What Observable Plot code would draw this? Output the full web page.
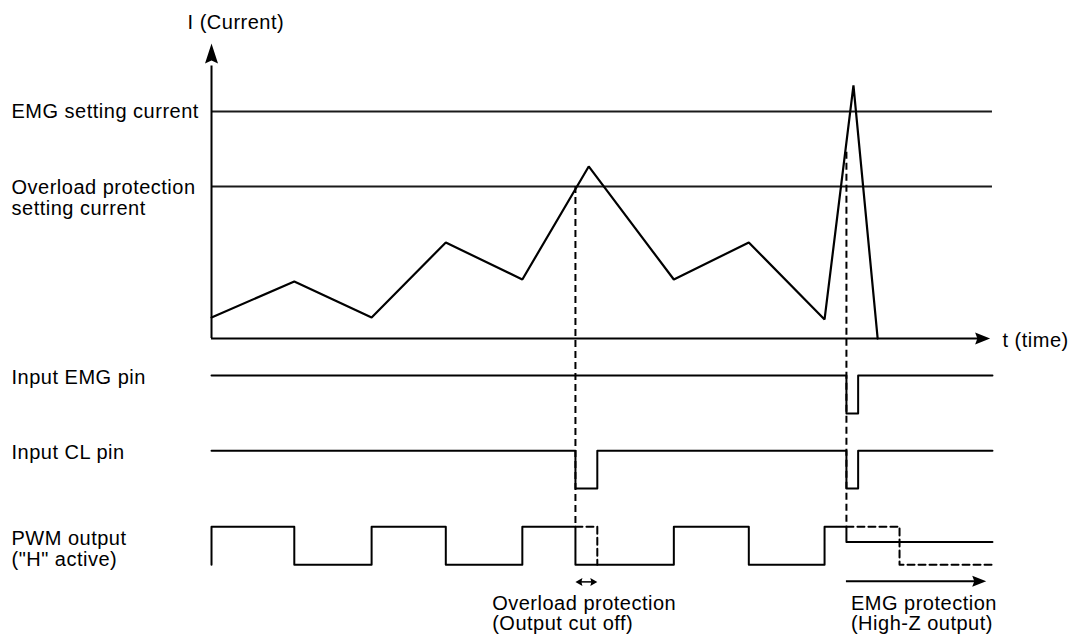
<!DOCTYPE html>
<html>
<head>
<meta charset="utf-8">
<script src="https://cdn.jsdelivr.net/npm/d3@7"></script>
<script src="https://cdn.jsdelivr.net/npm/@observablehq/plot@0.6"></script>
<style>
  html, body { margin: 0; padding: 0; background: #fff; }
  #chart svg text { letter-spacing: 0.5px; }
</style>
</head>
<body>
<div id="chart"></div>
<script>
// ---------- data (time in arbitrary units 0..100, current in arbitrary units) ----------
const currentTimes  = [0, 10.6, 20.5, 30, 39.8, 48.3, 59.2, 68.8, 78.5, 82.2, 85.3];
const currentValues = [0.93, 2.51, 0.93, 4.23, 2.6, 7.58, 2.6, 4.23, 0.84, 11.15, 0];

const emgSetting = 10;
const overloadSetting = 6.7;
const overloadTrip = 46.6;   // time current crosses overload setting
const overloadRelease = 49.4;
const emgTrip = 81.3;        // time EMG detected
const emgRelease = 82.8;
const pwmNormalEnd = 88.1;
const tEnd = 100;

const emgPinTimes  = [0, emgTrip, emgRelease, tEnd];
const emgPinLevels = [1, 0, 1, 1];

const clPinTimes  = [0, overloadTrip, overloadRelease, emgTrip, emgRelease, tEnd];
const clPinLevels = [1, 0, 1, 0, 1, 1];

const pwmTimes  = [0, 0, 10.6, 20.5, 30, 39.8, overloadTrip, 59.2, 68.8, 78.5, emgTrip, tEnd];
const pwmLevels = [0, 1, 0, 1, 0, 1, 0, 1, 0, 1, 0.6, 0.6];

const pwmDash1Times  = [overloadTrip, overloadRelease, overloadRelease];
const pwmDash1Levels = [1, 1, 0];
const pwmDash2Times  = [emgTrip, pwmNormalEnd, pwmNormalEnd, tEnd];
const pwmDash2Levels = [1, 1, 0, 0];

const rowNames = ["Input EMG pin", "Input CL pin", "PWM output\n(\"H\" active)"];

// ---------- layout (not data) ----------
const rowLow = [-3.3, -6.61, -9.96];
const rowAmp = 1.67;
const lvl = (row, v) => rowLow[row] + v * rowAmp;
const axisTop = 13.0;
const axisRight = 99.7;
const arrowY = -10.72;

const labels = [
  {t: -3.07, y: 13.90, s: "I (Current)"},
  {t: -25.61, y: 10.01, s: "EMG setting current"},
  {t: -25.61, y: 6.19, s: "Overload protection\nsetting current"},
  {t: 101.28, y: -0.10, s: "t (time)"},
  {t: -25.61, y: -1.70, s: rowNames[0]},
  {t: -25.61, y: -5.03, s: rowNames[1]},
  {t: -25.61, y: -9.27, s: rowNames[2]},
  {t: 35.94, y: -12.12, s: "Overload protection\n(Output cut off)"},
  {t: 81.88, y: -12.12, s: "EMG protection\n(High-Z output)"}
];

const zip = (ts, vs, f = v => v) => ts.map((t, i) => ({t, v: f(vs[i])}));

const currentData = zip(currentTimes, currentValues);
const emgData = zip(emgPinTimes, emgPinLevels, v => lvl(0, v));
const clData = zip(clPinTimes, clPinLevels, v => lvl(1, v));
const pwmData = zip(pwmTimes, pwmLevels, v => lvl(2, v));
const dash1 = zip(pwmDash1Times, pwmDash1Levels, v => lvl(2, v));
const dash2 = zip(pwmDash2Times, pwmDash2Levels, v => lvl(2, v));

function head(len, hw) {
  return {draw(ctx) {
    ctx.moveTo(0, 0);
    ctx.lineTo(-hw, len);
    ctx.lineTo(0, len * 0.85);
    ctx.lineTo(hw, len);
    ctx.closePath();
  }};
}
const bigHead = head(20, 6.5);
const midHead = head(15, 6);
const smallHead = head(7, 4);

const chart = Plot.plot({
  width: 1071,
  height: 637,
  margin: 0,
  x: {domain: [-27.02, 110.12], range: [0, 1071], axis: null},
  y: {domain: [-13.17, 14.89], range: [637, 0], axis: null},
  style: {fontFamily: "'Liberation Sans', Arial, Helvetica, sans-serif", background: "#fff", color: "#000"},
  marks: [
    // threshold lines
    Plot.ruleY([emgSetting, overloadSetting], {x1: 0, x2: tEnd, stroke: "#1a1a1a", strokeWidth: 2}),
    // dashed guides
    Plot.ruleX([overloadTrip], {y1: overloadSetting, y2: lvl(2, 1), stroke: "#000", strokeWidth: 2, strokeDasharray: "7,4"}),
    Plot.ruleX([emgTrip], {y1: 8.2, y2: lvl(2, 1), stroke: "#000", strokeWidth: 2, strokeDasharray: "7,4"}),
    // axes
    Plot.ruleX([0], {y1: 0, y2: axisTop - 1, stroke: "#000", strokeWidth: 2}),
    Plot.ruleY([0], {x1: 0, x2: axisRight - 1, stroke: "#000", strokeWidth: 2}),
    Plot.dot([{t: 0, v: axisTop}], {x: "t", y: "v", r: 5, symbol: bigHead, fill: "#000", stroke: null}),
    Plot.dot([{t: axisRight, v: 0}], {x: "t", y: "v", r: 5, symbol: midHead, rotate: 90, fill: "#000", stroke: null}),
    // current waveform
    Plot.line(currentData, {x: "t", y: "v", stroke: "#000", strokeWidth: 2.2, strokeLinejoin: "miter"}),
    // digital signals
    Plot.line(emgData, {x: "t", y: "v", curve: "step-after", stroke: "#000", strokeWidth: 2}),
    Plot.line(clData, {x: "t", y: "v", curve: "step-after", stroke: "#000", strokeWidth: 2}),
    Plot.line(pwmData, {x: "t", y: "v", curve: "step-after", stroke: "#000", strokeWidth: 2}),
    Plot.line(dash1, {x: "t", y: "v", stroke: "#000", strokeWidth: 2, strokeDasharray: "7,4"}),
    Plot.line(dash2, {x: "t", y: "v", stroke: "#000", strokeWidth: 2, strokeDasharray: "7,4"}),
    // protection arrows
    Plot.ruleY([arrowY], {x1: overloadTrip + 0.6, x2: overloadRelease - 0.6, stroke: "#000", strokeWidth: 1.5}),
    Plot.dot([{t: overloadTrip, v: arrowY}], {x: "t", y: "v", r: 3, symbol: smallHead, rotate: -90, fill: "#000", stroke: null}),
    Plot.dot([{t: overloadRelease, v: arrowY}], {x: "t", y: "v", r: 3, symbol: smallHead, rotate: 90, fill: "#000", stroke: null}),
    Plot.ruleY([arrowY + 0.03], {x1: emgTrip, x2: 99.2 - 1, stroke: "#000", strokeWidth: 2}),
    Plot.dot([{t: 99.2, v: arrowY + 0.03}], {x: "t", y: "v", r: 5, symbol: head(14, 5.5), rotate: 90, fill: "#000", stroke: null}),
    // text
    Plot.text(labels, {x: "t", y: "y", text: "s", textAnchor: "start", lineAnchor: "middle", lineHeight: 1.01, fontSize: 20, fill: "#000"})
  ]
});
document.getElementById("chart").appendChild(chart);
</script>
</body>
</html>
